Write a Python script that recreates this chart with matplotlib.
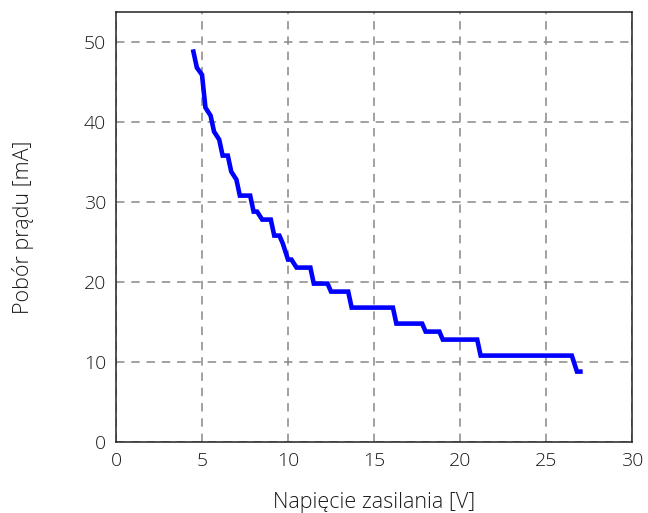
import matplotlib
matplotlib.use("Agg")
import matplotlib.pyplot as plt

voltage = [4.5, 4.7, 5.0, 5.2, 5.5, 5.7, 6.0, 6.2, 6.5, 6.7, 7.0, 7.2, 7.8, 8.0,
           8.2, 8.5, 9.0, 9.2, 9.5, 9.7, 10.0, 10.2, 10.5, 11.3, 11.5, 12.3, 12.5,
           13.5, 13.7, 16.1, 16.3, 17.8, 18.0, 18.8, 19.0, 21.0, 21.2, 26.5, 26.8, 27.0]
current = [48.8, 46.8, 45.9, 41.8, 40.8, 38.8, 37.8, 35.8, 35.8, 33.8, 32.8, 30.8, 30.8, 28.8,
           28.8, 27.8, 27.8, 25.8, 25.8, 24.8, 22.8, 22.8, 21.8, 21.8, 19.8, 19.8, 18.8,
           18.8, 16.8, 16.8, 14.8, 14.8, 13.8, 13.8, 12.8, 12.8, 10.8, 10.8, 8.8, 8.8]

x_ticks = [0, 5, 10, 15, 20, 25, 30]
y_ticks = [0, 10, 20, 30, 40, 50]
x_label = "Napięcie zasilania [V]"
y_label = "Pobór prądu [mA]"

plt.rcParams['font.family'] = ['Open Sans', 'DejaVu Sans']
plt.rcParams['font.weight'] = 300

fig = plt.figure(figsize=(6.48, 5.13), dpi=100)
ax = fig.add_axes([116/648, 1 - 442/513, (632-116)/648, (442-12)/513])

ax.plot(voltage, current, color='#0000ff', linewidth=3.3, solid_joinstyle='miter', zorder=3)

ax.set_xlim(0, 30)
ax.set_ylim(0, 53.75)
ax.set_xticks(x_ticks)
ax.set_yticks(y_ticks)
ax.tick_params(length=0, labelsize=14, colors='#1a1a1a', pad=7)
for lbl in ax.get_xticklabels() + ax.get_yticklabels():
    lbl.set_fontweight(300)

ax.grid(True, color='#888888', linewidth=1.1, linestyle=(0, (5.5, 4.5)), zorder=1)
for s in ax.spines.values():
    s.set_color('#222222')
    s.set_linewidth(1.1)

ax.set_xlabel(x_label, fontsize=15.5, fontweight=300, color='#1a1a1a', labelpad=16)
ax.set_ylabel(y_label, fontsize=15.5, fontweight=300, color='#1a1a1a', labelpad=36)

fig.savefig("out.png", dpi=100)
